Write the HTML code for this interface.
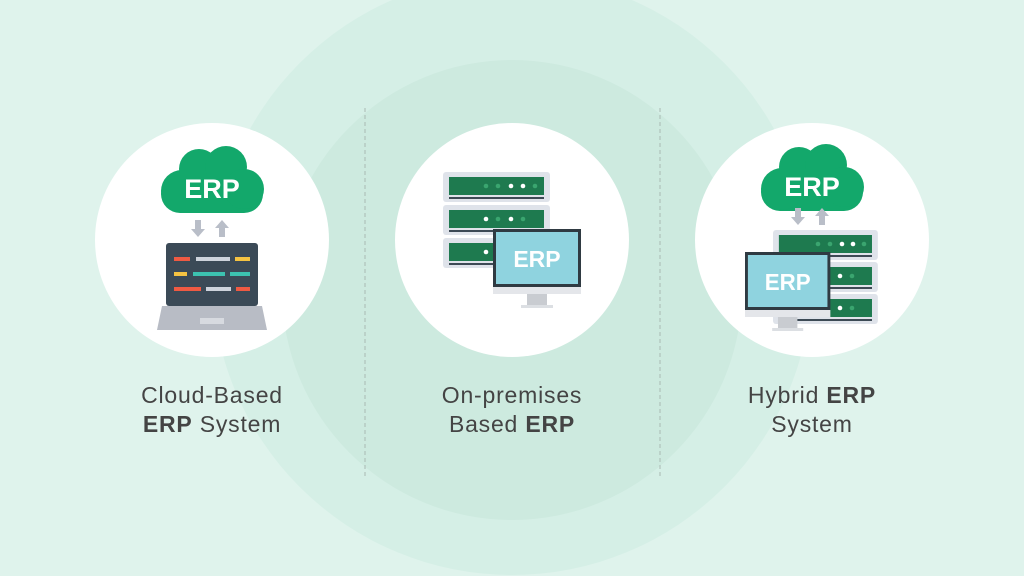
<!DOCTYPE html>
<html><head><meta charset="utf-8"><style>html,body{margin:0;padding:0;background:#dff3ec}svg{display:block}</style></head><body>
<svg width="1024" height="576" viewBox="0 0 1024 576" xmlns="http://www.w3.org/2000/svg" font-family="'Liberation Sans',sans-serif">
<defs>
<g id="cloud">
 <rect x="-51" y="-8" width="102" height="38" rx="19" fill="#13a86b"/>
 <circle cx="-30" cy="8" r="21" fill="#13a86b"/>
 <circle cx="-13" cy="-14" r="20" fill="#13a86b"/>
 <circle cx="14" cy="-16" r="21" fill="#13a86b"/>
 <circle cx="32" cy="6" r="20" fill="#13a86b"/>
 <text x="0" y="15" text-anchor="middle" font-size="27" font-weight="bold" fill="#fff">ERP</text>
</g>
<g id="arrows">
 <path d="M-16,0h6v9h4l-7,8l-7,-8h4z" fill="#b9bec8"/>
 <path d="M8,17h6v-9h4l-7,-8l-7,8h4z" fill="#b9bec8"/>
</g>
<g id="unit">
 <rect x="0" y="0" width="107" height="30" rx="3" fill="#dfe3ea"/>
 <rect x="6" y="5" width="95" height="18" fill="#1e7a4f"/>
 <rect x="6" y="25" width="95" height="2" fill="#3d4a55"/>
</g>
<g id="mon">
 <rect x="0" y="0" width="88" height="58" fill="#2f3a42"/>
 <rect x="3" y="3" width="82" height="52" fill="#8fd3df"/>
 <rect x="0" y="58" width="88" height="7" fill="#e4e6ea"/>
 <rect x="34" y="65" width="20" height="12" fill="#c9ccd1"/>
 <rect x="28" y="76" width="32" height="3" fill="#dcdfe3"/>
 <text x="44" y="38" text-anchor="middle" font-size="23" font-weight="bold" fill="#fff">ERP</text>
</g>
</defs>
<rect width="1024" height="576" fill="#dff3ec"/>
<circle cx="512" cy="275" r="300" fill="#d5efe6"/>
<circle cx="512" cy="290" r="230" fill="#cdeadf"/>
<line x1="365" y1="108" x2="365" y2="478" stroke="#a9b9b3" stroke-width="1" stroke-dasharray="4,3"/>
<line x1="660" y1="108" x2="660" y2="478" stroke="#a9b9b3" stroke-width="1" stroke-dasharray="4,3"/>
<circle cx="212" cy="240" r="117" fill="#fff"/>
<circle cx="512" cy="240" r="117" fill="#fff"/>
<circle cx="812" cy="240" r="117" fill="#fff"/>

<!-- left -->
<use href="#cloud" transform="translate(212,183)"/>
<use href="#arrows" transform="translate(211,220)"/>
<rect x="166" y="243" width="92" height="63" rx="3" fill="#3b4a57"/>
<rect x="174" y="257" width="16" height="4" fill="#ef5a43"/>
<rect x="196" y="257" width="34" height="4" fill="#cdd3dc"/>
<rect x="235" y="257" width="15" height="4" fill="#f5c342"/>
<rect x="174" y="272" width="13" height="4" fill="#f5c342"/>
<rect x="193" y="272" width="32" height="4" fill="#3cc2b0"/>
<rect x="230" y="272" width="20" height="4" fill="#3cc2b0"/>
<rect x="174" y="287" width="27" height="4" fill="#ef5a43"/>
<rect x="206" y="287" width="25" height="4" fill="#cdd3dc"/>
<rect x="236" y="287" width="14" height="4" fill="#ef5a43"/>
<path d="M162,306h100l5,24h-110z" fill="#b8bcc5"/>
<rect x="200" y="318" width="24" height="6" fill="#d7dae0"/>

<!-- middle -->
<use href="#unit" transform="translate(443,172)"/>
<use href="#unit" transform="translate(443,205)"/>
<use href="#unit" transform="translate(443,238)"/>
<g fill="#fff"><circle cx="486" cy="186" r="2.3" fill="#3aa56f"/><circle cx="498" cy="186" r="2.3" fill="#3aa56f"/><circle cx="511" cy="186" r="2.3"/><circle cx="523" cy="186" r="2.3"/><circle cx="535" cy="186" r="2.3" fill="#3aa56f"/>
<circle cx="486" cy="219" r="2.3"/><circle cx="498" cy="219" r="2.3" fill="#3aa56f"/><circle cx="511" cy="219" r="2.3"/><circle cx="523" cy="219" r="2.3" fill="#3aa56f"/><circle cx="486" cy="252" r="2.3"/></g>
<use href="#mon" transform="translate(493,229)"/>

<!-- right -->
<use href="#cloud" transform="translate(812,181)"/>
<use href="#arrows" transform="translate(811,208)"/>
<use href="#unit" transform="translate(773,230) scale(0.98,1)"/>
<use href="#unit" transform="translate(773,262) scale(0.98,1)"/>
<use href="#unit" transform="translate(773,294) scale(0.98,1)"/>
<g fill="#fff"><circle cx="818" cy="244" r="2.3" fill="#3aa56f"/><circle cx="830" cy="244" r="2.3" fill="#3aa56f"/><circle cx="842" cy="244" r="2.3"/><circle cx="853" cy="244" r="2.3"/><circle cx="864" cy="244" r="2.3" fill="#3aa56f"/>
<circle cx="840" cy="276" r="2.3"/><circle cx="852" cy="276" r="2.3" fill="#3aa56f"/><circle cx="840" cy="308" r="2.3"/><circle cx="852" cy="308" r="2.3" fill="#3aa56f"/></g>
<use href="#mon" transform="translate(745,252) scale(0.97,1)"/>

<g font-size="23" fill="#444" text-anchor="middle" letter-spacing="0.8">
<text x="212" y="403">Cloud-Based</text>
<text x="212" y="432"><tspan font-weight="bold">ERP</tspan> System</text>
<text x="512" y="403">On-premises</text>
<text x="512" y="432">Based <tspan font-weight="bold">ERP</tspan></text>
<text x="812" y="403">Hybrid <tspan font-weight="bold">ERP</tspan></text>
<text x="812" y="432">System</text>
</g>
</svg>
</body></html>
